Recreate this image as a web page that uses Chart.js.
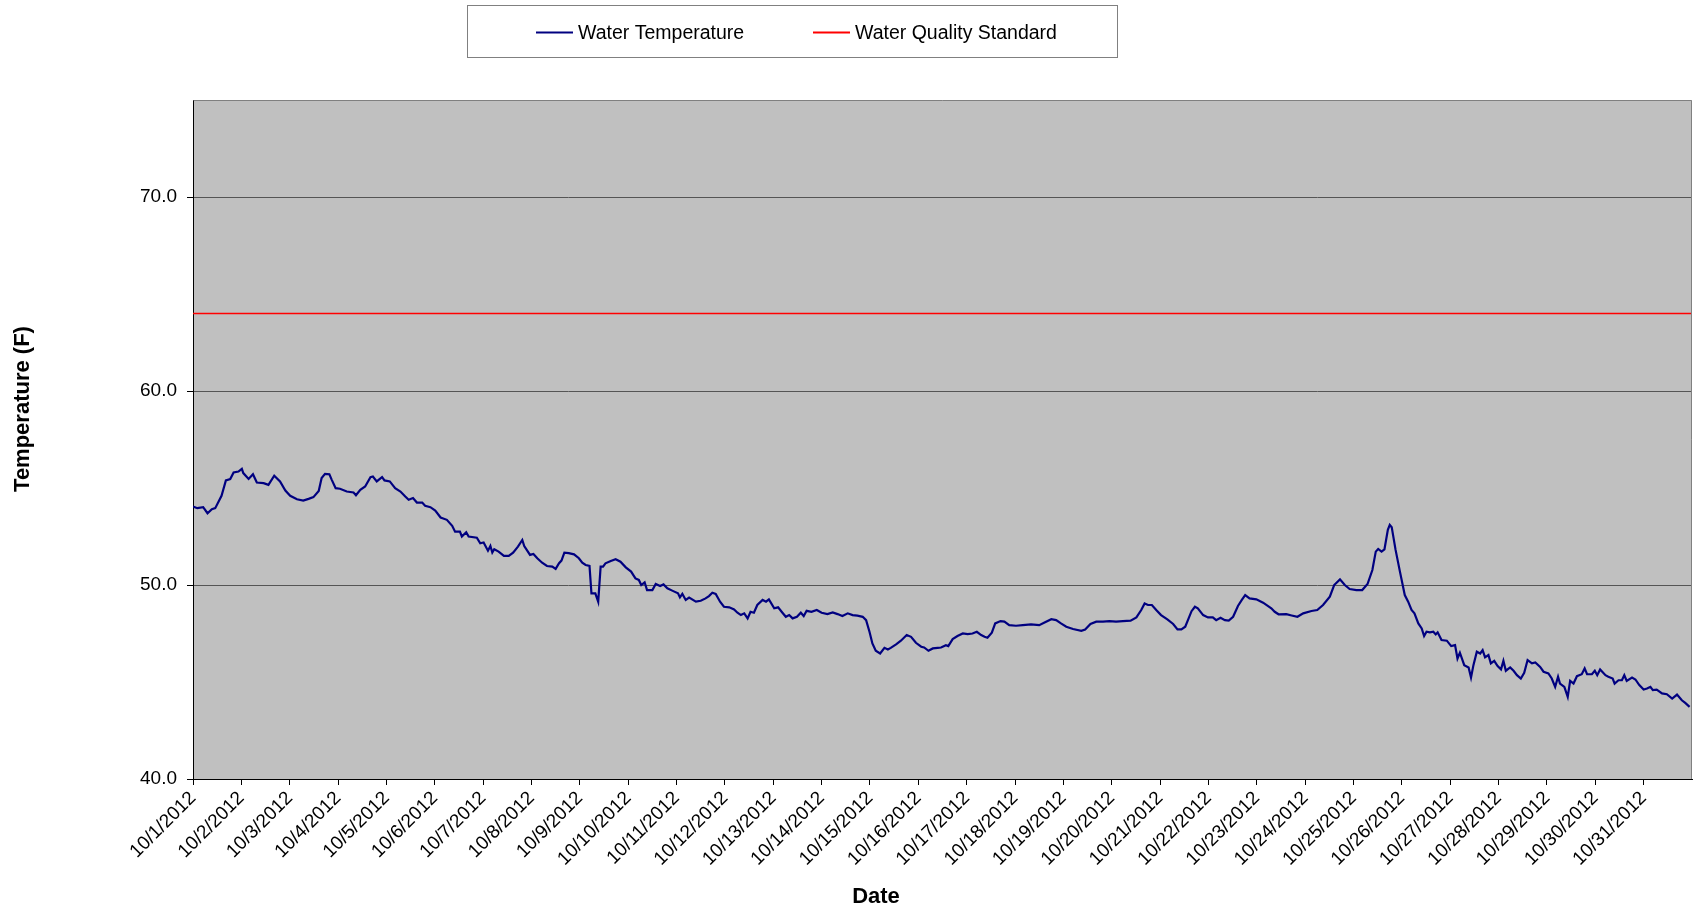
<!DOCTYPE html>
<html>
<head>
<meta charset="utf-8">
<title>Water Temperature - October 2012</title>
<script src="https://cdn.jsdelivr.net/npm/chart.js@4.4.0/dist/chart.umd.min.js"></script>
<style>
  html, body { margin: 0; padding: 0; background: #ffffff; }
  #wrap { position: relative; width: 1698px; height: 913px; }
</style>
</head>
<body>
<div id="wrap"><canvas id="chart" width="1698" height="913"></canvas></div>
<script>
// Readings: days elapsed since 10/1/2012 00:00, and water temperature (deg F)
const readingDay = [
  0.00,0.09,0.21,0.30,0.39,0.46,0.59,0.68,0.77,0.84,
  0.94,1.01,1.04,1.15,1.24,1.32,1.46,1.56,1.68,1.80,
  1.91,2.01,2.15,2.28,2.39,2.49,2.60,2.66,2.73,2.82,
  2.87,2.95,3.04,3.18,3.32,3.37,3.46,3.56,3.67,3.72,
  3.80,3.91,3.96,4.07,4.18,4.29,4.39,4.46,4.55,4.63,
  4.74,4.80,4.91,5.01,
  5.12,5.25,5.36,5.42,5.52,5.56,5.65,5.70,5.87,5.94,
  6.01,6.10,6.15,6.19,6.23,6.32,6.43,6.53,6.62,6.72,
  6.81,6.85,6.97,7.04,7.12,7.22,7.32,7.43,7.50,7.57,
  7.62,7.68,7.77,7.88,7.98,8.05,8.12,8.20,8.24,8.32,
  8.38,8.43,8.48,8.53,8.64,8.74,8.84,8.95,9.06,9.15,
  9.22,9.27,9.34,9.39,9.50,9.57,9.66,9.73,9.81,9.91,
  10.03,10.07,10.12,10.19,10.26,
  10.40,10.50,10.60,10.67,10.74,10.81,10.90,10.98,11.09,11.19,
  11.26,11.33,11.40,11.47,11.53,11.60,11.67,11.78,11.85,11.91,
  12.02,12.10,12.19,12.26,12.33,12.40,12.49,12.57,12.63,12.69,
  12.79,12.90,13.00,13.12,13.23,13.33,13.43,13.54,13.64,13.74,
  13.85,13.92,13.99,14.05,14.12,14.21,14.30,14.37,14.43,14.54,
  14.64,14.76,14.85,14.95,15.06,15.12,15.21,15.30,15.40,
  15.47,15.57,15.62,15.71,15.81,15.92,16.02,16.12,16.21,16.30,
  16.37,16.43,16.52,16.59,16.70,16.78,16.88,17.02,17.16,17.33,
  17.50,17.61,17.75,17.85,17.95,18.06,18.20,18.37,18.45,18.56,
  18.68,18.82,18.95,19.09,19.23,19.39,19.51,19.61,19.68,19.75,
  19.83,19.92,20.02,20.15,20.27,20.36,20.44,20.52,20.59,20.65,
  20.72,20.78,20.89,20.99,21.09,21.16,21.25,21.34,21.42,21.51,
  21.61,21.69,21.76,21.85,21.99,22.13,22.30,22.37,22.45,22.61,
  22.72,22.84,22.96,23.13,23.25,23.37,23.51,23.60,23.72,23.82,
  23.92,24.06,24.18,24.29,24.39,24.46,24.51,24.58,24.64,24.71,
  24.75,24.79,24.87,24.96,25.06,25.13,25.20,25.26,25.34,25.41,
  25.46,25.51,25.58,25.65,25.70,25.74,
  25.82,25.93,26.02,26.10,26.15,26.20,26.29,26.38,26.43,26.48,
  26.55,26.62,26.67,26.72,26.79,26.84,26.91,26.98,27.05,27.10,
  27.15,27.24,27.31,27.38,27.46,27.53,27.60,27.69,27.76,27.86,
  27.93,28.03,28.10,28.17,28.23,28.27,28.36,28.43,28.48,28.55,
  28.62,28.72,28.78,28.83,28.93,28.99,29.04,29.10,29.21,29.27,
  29.36,29.40,29.48,29.55,29.60,29.65,29.76,29.83,29.91,30.00,
  30.07,30.14,30.19,30.27,30.38,30.48,30.59,30.69,30.79,30.86,
  30.95
];

const waterTempF = [
  54.04,53.96,54.01,53.70,53.91,53.96,54.60,55.39,55.46,55.80,
  55.85,55.99,55.77,55.47,55.71,55.28,55.25,55.16,55.63,55.34,
  54.87,54.60,54.42,54.35,54.44,54.53,54.85,55.51,55.73,55.71,
  55.42,54.99,54.96,54.82,54.77,54.63,54.91,55.08,55.56,55.59,
  55.34,55.56,55.39,55.34,54.99,54.82,54.56,54.39,54.48,54.25,
  54.25,54.08,54.01,53.84,
  53.48,53.36,53.05,52.75,52.75,52.50,52.72,52.50,52.44,52.15,
  52.19,51.77,52.01,51.67,51.84,51.72,51.50,51.50,51.67,51.98,
  52.32,52.01,51.55,51.60,51.38,51.15,50.98,50.95,50.83,51.12,
  51.26,51.67,51.64,51.58,51.38,51.15,51.03,50.98,49.57,49.57,
  49.14,50.95,50.95,51.12,51.24,51.33,51.20,50.91,50.69,50.34,
  50.26,50.00,50.14,49.74,49.74,50.05,49.95,50.03,49.83,49.71,
  49.57,49.36,49.54,49.23,49.35,
  49.14,49.19,49.31,49.43,49.60,49.54,49.14,48.88,48.85,48.74,
  48.57,48.45,48.54,48.28,48.62,48.57,48.97,49.23,49.14,49.26,
  48.80,48.85,48.57,48.36,48.45,48.28,48.36,48.57,48.40,48.67,
  48.62,48.71,48.57,48.50,48.59,48.50,48.40,48.54,48.45,48.42,
  48.36,48.19,47.59,46.99,46.61,46.47,46.76,46.68,46.76,46.94,
  47.13,47.42,47.33,47.02,46.82,46.78,46.61,46.73,46.76,
  46.78,46.90,46.85,47.21,47.37,47.50,47.47,47.50,47.59,47.42,
  47.33,47.28,47.54,48.02,48.14,48.11,47.93,47.90,47.93,47.97,
  47.93,48.07,48.24,48.19,48.02,47.85,47.73,47.64,47.71,47.99,
  48.11,48.11,48.14,48.11,48.14,48.16,48.33,48.71,49.05,48.97,
  48.97,48.71,48.45,48.23,47.99,47.71,47.71,47.85,48.28,48.65,
  48.88,48.80,48.45,48.33,48.33,48.19,48.31,48.19,48.16,48.36,
  48.92,49.23,49.48,49.31,49.26,49.09,48.80,48.62,48.49,48.50,
  48.43,48.36,48.54,48.66,48.71,48.97,49.40,50.00,50.29,50.00,
  49.79,49.74,49.74,50.05,50.77,51.72,51.86,51.72,51.84,52.84,
  53.10,52.98,51.81,50.69,49.48,49.14,48.71,48.54,48.02,47.76,
  47.37,47.59,47.56,47.59,47.45,47.56,
  47.16,47.13,46.85,46.90,46.21,46.51,45.87,45.75,45.23,45.87,
  46.56,46.47,46.64,46.27,46.39,45.96,46.09,45.82,45.65,46.09,
  45.58,45.75,45.58,45.35,45.18,45.47,46.13,45.96,46.01,45.78,
  45.53,45.44,45.18,44.75,45.27,44.92,44.75,44.23,45.06,44.92,
  45.30,45.40,45.70,45.40,45.40,45.58,45.35,45.65,45.35,45.27,
  45.18,44.92,45.09,45.09,45.35,45.06,45.23,45.13,44.84,44.61,
  44.66,44.75,44.58,44.61,44.41,44.37,44.15,44.35,44.06,43.92,
  43.72
];

// Water quality standard (deg F), drawn across the whole month
const standardF = 64.0;
const standardSpan = [0, 31];

// Axis ticks
const tempTicks = [40, 50, 60, 70];
const dayTicks = [0,1,2,3,4,5,6,7,8,9,10,11,12,13,14,15,16,17,18,19,20,21,22,23,24,25,26,27,28,29,30];
const dateLabels = [
  '10/1/2012','10/2/2012','10/3/2012','10/4/2012','10/5/2012','10/6/2012','10/7/2012',
  '10/8/2012','10/9/2012','10/10/2012','10/11/2012','10/12/2012','10/13/2012','10/14/2012',
  '10/15/2012','10/16/2012','10/17/2012','10/18/2012','10/19/2012','10/20/2012','10/21/2012',
  '10/22/2012','10/23/2012','10/24/2012','10/25/2012','10/26/2012','10/27/2012','10/28/2012',
  '10/29/2012','10/30/2012','10/31/2012'
];

const FONT = '"Liberation Sans", Arial, Helvetica, sans-serif';

// Grey plot background and the light frame on the top and right edges
const plotFrame = {
  id: 'plotFrame',
  beforeDraw(chart) {
    const { ctx, chartArea: a } = chart;
    ctx.save();
    ctx.fillStyle = '#ffffff';
    ctx.fillRect(0, 0, chart.width, chart.height);
    ctx.fillStyle = '#c0c0c0';
    ctx.fillRect(a.left, a.top, a.right - a.left, a.bottom - a.top);
    ctx.restore();
  },
  afterDraw(chart) {
    const { ctx, chartArea: a } = chart;
    ctx.save();
    ctx.strokeStyle = '#808080';
    ctx.lineWidth = 1;
    ctx.beginPath();
    ctx.moveTo(Math.round(a.left) + 0.5, Math.round(a.top) + 0.5);
    ctx.lineTo(Math.round(a.right) - 0.5, Math.round(a.top) + 0.5);
    ctx.lineTo(Math.round(a.right) - 0.5, Math.round(a.bottom));
    ctx.stroke();
    ctx.restore();
  }
};

// Axis titles placed to the left and below the plot
const axisTitles = {
  id: 'axisTitles',
  afterDraw(chart) {
    const { ctx } = chart;
    ctx.save();
    ctx.fillStyle = '#000000';
    ctx.font = 'bold 22px ' + FONT;
    ctx.textAlign = 'center';
    ctx.textBaseline = 'middle';
    ctx.fillText('Date', 876, 897);
    ctx.translate(23, 409);
    ctx.rotate(-Math.PI / 2);
    ctx.fillText('Temperature (F)', 0, 0);
    ctx.restore();
  }
};

// Boxed legend above the plot
const boxedLegend = {
  id: 'boxedLegend',
  afterDraw(chart) {
    const { ctx } = chart;
    const ds = chart.data.datasets;
    const items = [
      { x0: 536, x1: 573, tx: 578 },
      { x0: 813, x1: 850, tx: 855 }
    ];
    ctx.save();
    ctx.strokeStyle = '#808080';
    ctx.lineWidth = 1;
    ctx.strokeRect(467.5, 5.5, 650, 52);
    ctx.font = '19.5px ' + FONT;
    ctx.textAlign = 'left';
    ctx.textBaseline = 'middle';
    items.forEach((it, i) => {
      ctx.strokeStyle = ds[i].borderColor;
      ctx.lineWidth = 2;
      ctx.beginPath();
      ctx.moveTo(it.x0, 32.5);
      ctx.lineTo(it.x1, 32.5);
      ctx.stroke();
      ctx.fillStyle = '#000000';
      ctx.fillText(ds[i].label, it.tx, 33.5);
    });
    ctx.restore();
  }
};

new Chart(document.getElementById('chart').getContext('2d'), {
  type: 'line',
  data: {
    datasets: [
      {
        label: 'Water Temperature',
        data: readingDay.map((d, i) => ({ x: d, y: waterTempF[i] })),
        borderColor: '#000080',
        borderWidth: 2.2,
        pointRadius: 0,
        tension: 0,
        fill: false
      },
      {
        label: 'Water Quality Standard',
        data: standardSpan.map(d => ({ x: d, y: standardF })),
        borderColor: '#ff0000',
        borderWidth: 1.5,
        pointRadius: 0,
        tension: 0,
        fill: false
      }
    ]
  },
  options: {
    responsive: false,
    animation: false,
    events: [],
    layout: { padding: { top: 100, right: 6, left: 0, bottom: 0 } },
    plugins: {
      legend: { display: false },
      tooltip: { enabled: false },
      title: { display: false }
    },
    scales: {
      x: {
        type: 'linear',
        min: 0,
        max: 31,
        afterBuildTicks: s => { s.ticks = dayTicks.map(v => ({ value: v })); },
        afterFit: s => { s.height = 134; },
        ticks: {
          autoSkip: false,
          maxRotation: 45,
          minRotation: 45,
          padding: 2,
          color: '#000000',
          font: { family: FONT, size: 19 },
          callback: v => (dateLabels[v] !== undefined ? dateLabels[v] : '')
        },
        grid: { drawOnChartArea: false, drawTicks: true, tickLength: 6, color: '#000000' },
        border: { color: '#000000', width: 1 }
      },
      y: {
        min: 40,
        max: 75,
        afterBuildTicks: s => { s.ticks = tempTicks.map(v => ({ value: v })); },
        afterFit: s => { s.width = 193; },
        ticks: {
          padding: 10,
          color: '#000000',
          font: { family: FONT, size: 19 },
          callback: v => Number(v).toFixed(1)
        },
        grid: {
          color: c => (c.tick && c.tick.value === 40 ? 'rgba(0,0,0,0)' : '#555555'),
          tickColor: '#000000',
          tickLength: 6,
          lineWidth: 1
        },
        border: { color: '#000000', width: 1 }
      }
    }
  },
  plugins: [plotFrame, axisTitles, boxedLegend]
});
</script>
</body>
</html>
